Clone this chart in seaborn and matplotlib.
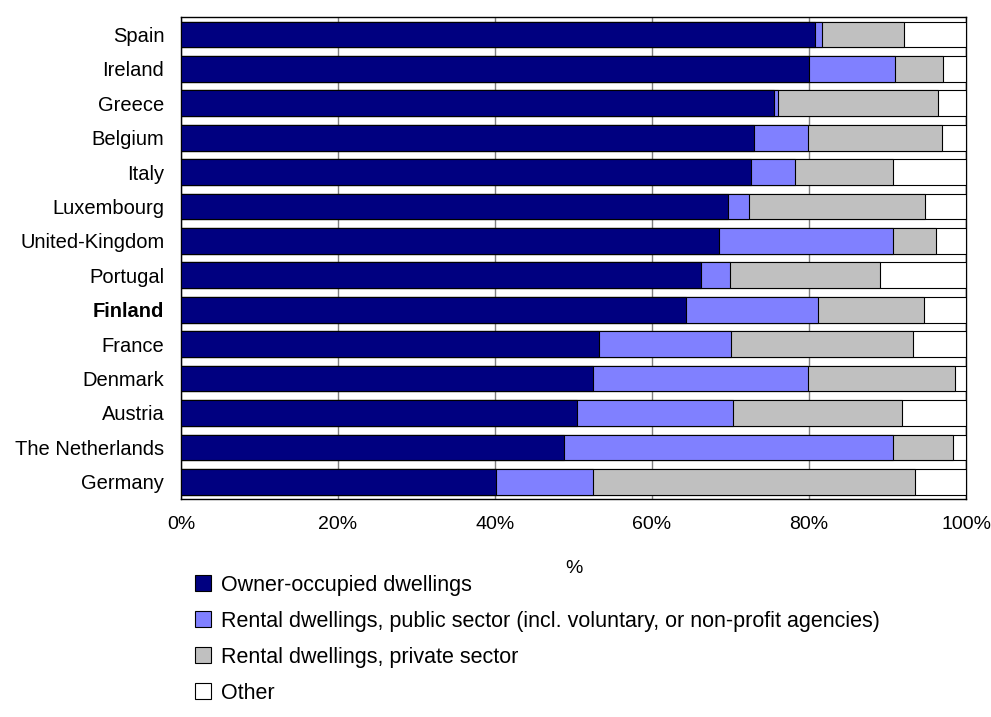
import numpy as np
import pandas as pd
import matplotlib
matplotlib.use("Agg")
import matplotlib.pyplot as plt
from matplotlib.patches import Patch
import seaborn as sns

countries = ['Spain', 'Ireland', 'Greece', 'Belgium', 'Italy', 'Luxembourg',
             'United-Kingdom', 'Portugal', 'Finland', 'France', 'Denmark',
             'Austria', 'The Netherlands', 'Germany']
owner = [80.8, 80.0, 75.6, 73.0, 72.6, 69.7, 68.5, 66.3, 64.3, 53.2, 52.5, 50.4, 48.8, 40.1]
public = [0.8, 10.9, 0.4, 6.9, 5.6, 2.7, 22.2, 3.6, 16.9, 16.8, 27.4, 19.9, 41.9, 12.4]
private = [10.5, 6.2, 20.4, 17.0, 12.5, 22.4, 5.5, 19.1, 13.5, 23.2, 18.7, 21.5, 7.6, 41.0]
other = [7.9, 2.9, 3.6, 3.1, 9.3, 5.2, 3.8, 11.0, 5.3, 6.8, 1.4, 8.2, 1.7, 6.5]

series = ['Owner-occupied dwellings',
          'Rental dwellings, public sector (incl. voluntary, or non-profit agencies)',
          'Rental dwellings, private sector',
          'Other']
colors = ['#000080', '#8080FF', '#C0C0C0', '#FFFFFF']

df = pd.DataFrame({'country': countries, 'owner': owner, 'public': public,
                   'private': private, 'other': other})
df['c1'] = df['owner']
df['c2'] = df['c1'] + df['public']
df['c3'] = df['c2'] + df['private']
df['c4'] = df['c3'] + df['other']

sns.set_style('white')
plt.rcParams['font.family'] = ['Liberation Sans', 'DejaVu Sans']
plt.rcParams['text.color'] = 'black'
plt.rcParams['xtick.color'] = 'black'
plt.rcParams['ytick.color'] = 'black'
plt.rcParams['axes.labelcolor'] = 'black'

fig = plt.figure(figsize=(9.91, 7.17), dpi=100)
ax = fig.add_axes([0.1826, 0.304, 0.7922, 0.672])

# stacked: draw cumulative totals from back to front
for col, c in zip(['c4', 'c3', 'c2', 'c1'], colors[::-1]):
    sns.barplot(data=df, x=col, y='country', orient='h', color=c,
                edgecolor='black', linewidth=0.8, width=0.75,
                saturation=1, ax=ax, zorder=3)

ax.set_xlim(0, 100)
ax.set_xticks(np.arange(0, 101, 20))
ax.set_xticklabels([f'{v}%' for v in range(0, 101, 20)], fontsize=14)
ax.tick_params(axis='x', pad=12, length=0)
ax.tick_params(axis='y', length=0, pad=12, labelsize=14.5)
for lab in ax.get_yticklabels():
    if lab.get_text() == 'Finland':
        lab.set_fontweight('bold')
ax.set_xlabel('%', fontsize=14, labelpad=20)
ax.set_ylabel('')
ax.grid(axis='x', color='#808080', linewidth=1, zorder=0)
ax.set_axisbelow(True)
for s in ax.spines.values():
    s.set_color('black')
    s.set_linewidth(1)

handles = [Patch(facecolor=c, edgecolor='black', linewidth=0.8) for c in colors]
fig.legend(handles, series, loc='upper left', bbox_to_anchor=(0.188, 0.2106),
           frameon=False, fontsize=15.5, handlelength=0.75, handleheight=0.75,
           handletextpad=0.45, labelspacing=0.7, borderaxespad=0)

fig.savefig('out.png', dpi=100)
